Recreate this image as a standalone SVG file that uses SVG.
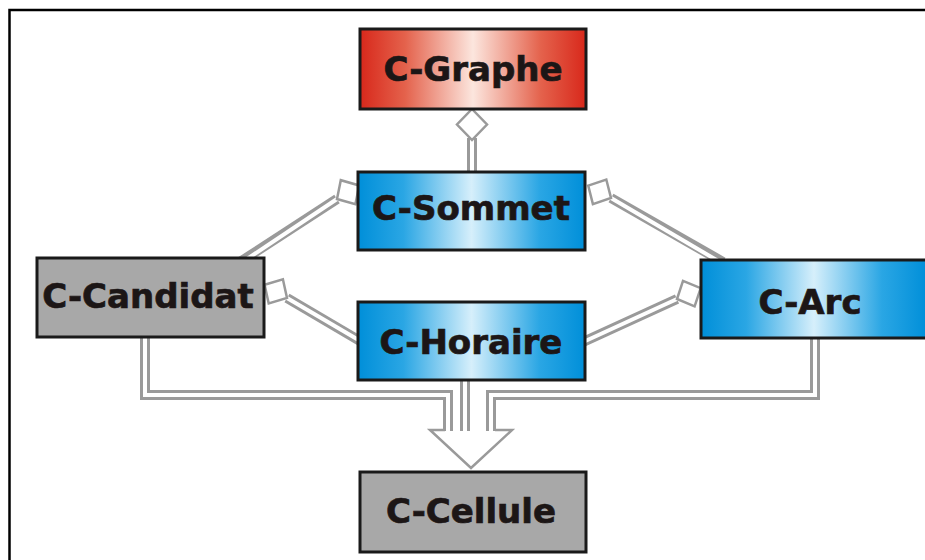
<svg xmlns="http://www.w3.org/2000/svg" width="925" height="560" viewBox="0 0 925 560">
<defs>
<linearGradient id="gRed" x1="0" y1="0" x2="1" y2="0">
<stop offset="0" stop-color="#d8281b"/>
<stop offset="0.2" stop-color="#e4624c"/>
<stop offset="0.5" stop-color="#fce6de"/>
<stop offset="0.8" stop-color="#e4624c"/>
<stop offset="1" stop-color="#d8281b"/>
</linearGradient>
<linearGradient id="gBlue" x1="0" y1="0" x2="1" y2="0">
<stop offset="0" stop-color="#008fd9"/>
<stop offset="0.2" stop-color="#2aa6e4"/>
<stop offset="0.5" stop-color="#d6effb"/>
<stop offset="0.8" stop-color="#2aa6e4"/>
<stop offset="1" stop-color="#008fd9"/>
</linearGradient>
<style>
.box{stroke:#1a1a1a;stroke-width:3}
.red{fill:url(#gRed)}
.blue{fill:url(#gBlue)}
.grey{fill:#a8a8a8}
.lbl{font-family:"DejaVu Sans",Verdana,sans-serif;font-weight:bold;font-size:34px;fill:#1c1616;stroke:#1c1616;stroke-width:0.7;text-anchor:middle}
.lo{fill:none;stroke:#9a9a9a;stroke-width:10;stroke-linejoin:miter}
.li{fill:none;stroke:#ffffff;stroke-width:4;stroke-linejoin:miter}
.dia{fill:#ffffff;stroke:#9a9a9a;stroke-width:2.5;stroke-linejoin:miter}
</style>
</defs>
<rect x="0" y="0" width="925" height="560" fill="#ffffff"/>
<rect x="9.5" y="10" width="1000" height="1000" fill="none" stroke="#000000" stroke-width="2.5"/>
<g id="connectors">
<path class="lo" d="M472,172 V138"/>
<path class="li" d="M472,175 V138"/>
<polygon class="dia" points="472,109 487,124.5 472,140 457,124.5"/>
<path class="lo" d="M240,262 L337,199"/>
<path class="li" d="M238,265 L337,199"/>
<polygon class="dia" points="359.2,185.5 355.4,204.2 337,199 340.8,180.2"/>
<path class="lo" d="M723,262 L611,198"/>
<path class="li" d="M725,265 L611,198"/>
<polygon class="dia" points="588.2,185.6 606.3,179.5 611,198 592.9,204.1"/>
<path class="lo" d="M360,341 L287,298"/>
<path class="li" d="M362,342 L287,298"/>
<polygon class="dia" points="264.6,284.8 282.9,279.3 287,298 268.7,303.5"/>
<path class="lo" d="M583,342 L677,299"/>
<path class="li" d="M581,343 L677,299"/>
<polygon class="dia" points="700.7,288.2 694.6,306.3 677,299 683,280.9"/>
<polygon class="dia" points="430,430 512,430 471,468"/>
<rect x="445" y="427" width="50" height="6" fill="#ffffff"/>
<path class="lo" d="M145,335 V395 H448 V431"/>
<path class="lo" d="M815,335 V395 H491 V431"/>
<path class="lo" d="M465,378 V431"/>
<path class="li" d="M145,335 V395 H448 V431"/>
<path class="li" d="M815,335 V395 H491 V431"/>
<path class="li" d="M465,378 V431"/>
</g>
<g id="n-graphe">
<rect class="box red" x="360" y="29" width="226" height="80"/>
<text class="lbl" x="473" y="81">C-Graphe</text>
</g>
<g id="n-sommet">
<rect class="box blue" x="358" y="172" width="227" height="78"/>
<text class="lbl" x="471" y="220">C-Sommet</text>
</g>
<g id="n-candidat">
<rect class="box grey" x="37" y="258" width="227" height="79"/>
<text class="lbl" x="148" y="308">C-Candidat</text>
</g>
<g id="n-horaire">
<rect class="box blue" x="358" y="302" width="227" height="78"/>
<text class="lbl" x="471" y="354">C-Horaire</text>
</g>
<g id="n-arc">
<rect class="box blue" x="701" y="260" width="226" height="78"/>
<text class="lbl" x="810" y="314">C-Arc</text>
</g>
<g id="n-cellule">
<rect class="box grey" x="360" y="472" width="226" height="80"/>
<text class="lbl" x="471" y="523">C-Cellule</text>
</g>
</svg>
